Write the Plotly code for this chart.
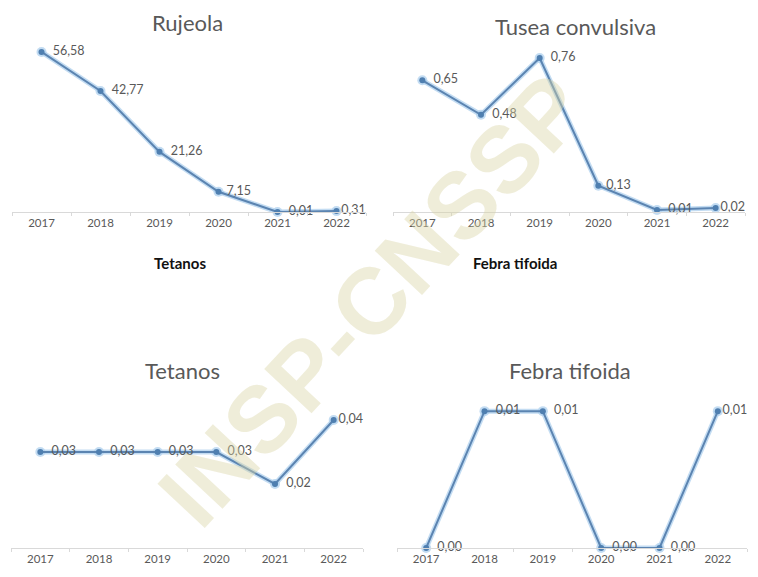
import plotly.graph_objects as go

years = ["2017", "2018", "2019", "2020", "2021", "2022"]
rujeola = [56.58, 42.77, 21.26, 7.15, 0.01, 0.31]
tusea = [0.65, 0.48, 0.76, 0.13, 0.01, 0.02]
tetanos = [0.03, 0.03, 0.03, 0.03, 0.02, 0.04]
febra = [0.00, 0.01, 0.01, 0.00, 0.00, 0.01]
titles = ["Rujeola", "Tusea convulsiva", "Tetanos", "Febra tifoida"]
series = [rujeola, tusea, tetanos, febra]

# page has an 8px body margin; figure occupies page px 8..750 x 8..569
OFF = 8
W, H = 742, 561


def px(x):
    return (x - OFF) / W


def py(y):
    return 1 - (y - OFF) / H


# panel boxes in page pixels: (left, right, top, bottom)
boxes = [(12, 366, 40, 212), (393, 745, 40, 212), (11, 363, 392, 548), (397, 747, 392, 548)]
yranges = [[0, 60.8], [0, 0.849], [0, 0.04875], [0, 0.0114]]
title_pos = [(187, 23), (575, 26), (182, 370), (570, 370)]
# label gap (non-breaking spaces) per point, styling only
pads = [[2, 2, 2, 1, 2, 0], [2, 2, 2, 1, 2, 0], [2, 2, 2, 2, 2, 0], [2, 2, 2, 2, 2, 0]]

fig = go.Figure()
font_fam = "Lato, Open Sans, Arial"
gray = "#595959"

for i, (vals, box) in enumerate(zip(series, boxes)):
    xa = "x" if i == 0 else f"x{i+1}"
    ya = "y" if i == 0 else f"y{i+1}"
    labels = ["\u00a0" * p + f"{v:.2f}".replace(".", ",") for v, p in zip(vals, pads[i])]
    fig.add_trace(go.Scatter(x=years, y=vals, xaxis=xa, yaxis=ya, mode="lines+markers",
                             line=dict(color="rgba(175,208,238,0.75)", width=5),
                             marker=dict(size=10, color="rgba(175,208,238,0.75)"),
                             hoverinfo="skip", showlegend=False, cliponaxis=False))
    fig.add_trace(go.Scatter(x=years, y=vals, xaxis=xa, yaxis=ya, mode="lines+markers+text",
                             line=dict(color="#5b84b1", width=2),
                             marker=dict(size=6, color="#4f7fb0"),
                             text=labels, textposition="middle right",
                             textfont=dict(size=12.5, color=gray, family=font_fam),
                             showlegend=False, cliponaxis=False))
    l, r, t, b = box
    fig.layout[("xaxis" if i == 0 else f"xaxis{i+1}")] = dict(
        domain=[px(l), px(r)], anchor=ya, type="category", range=[-0.5, 5.5],
        showline=True, linecolor="#d9d9d9", linewidth=1, ticks="outside", tickson="boundaries",
        ticklen=3, tickcolor="#d9d9d9", showgrid=False, zeroline=False,
        tickfont=dict(size=11.5, color=gray, family=font_fam), fixedrange=True)
    fig.layout[("yaxis" if i == 0 else f"yaxis{i+1}")] = dict(
        domain=[py(b), py(t)], anchor=xa, range=yranges[i],
        visible=False, showgrid=False, zeroline=False, fixedrange=True)
    tx, ty = title_pos[i]
    fig.add_annotation(x=px(tx), y=py(ty), xref="paper", yref="paper", text=titles[i],
                       xanchor="center", yanchor="middle",
                       showarrow=False, font=dict(size=22, color=gray, family=font_fam))

# bold sub-labels
fig.add_annotation(x=px(180), y=py(263), xref="paper", yref="paper", text="<b>Tetanos</b>",
                   xanchor="center", yanchor="middle",
                   showarrow=False, font=dict(size=15, color="#111111", family=font_fam))
fig.add_annotation(x=px(515), y=py(263), xref="paper", yref="paper", text="<b>Febra tifoida</b>",
                   xanchor="center", yanchor="middle",
                   showarrow=False, font=dict(size=15, color="#111111", family=font_fam))

# watermark
fig.add_annotation(x=px(372), y=py(300), xref="paper", yref="paper", text="<b>INSP-CNSSP</b>",
                   xanchor="center", yanchor="middle",
                   showarrow=False, textangle=-47,
                   font=dict(size=94, color="rgba(218,212,165,0.42)", family="Liberation Sans, Arial"))

fig.update_layout(width=W, height=H, margin=dict(l=0, r=0, t=0, b=0),
                  paper_bgcolor="white", plot_bgcolor="white")
fig.write_html("out.html")
